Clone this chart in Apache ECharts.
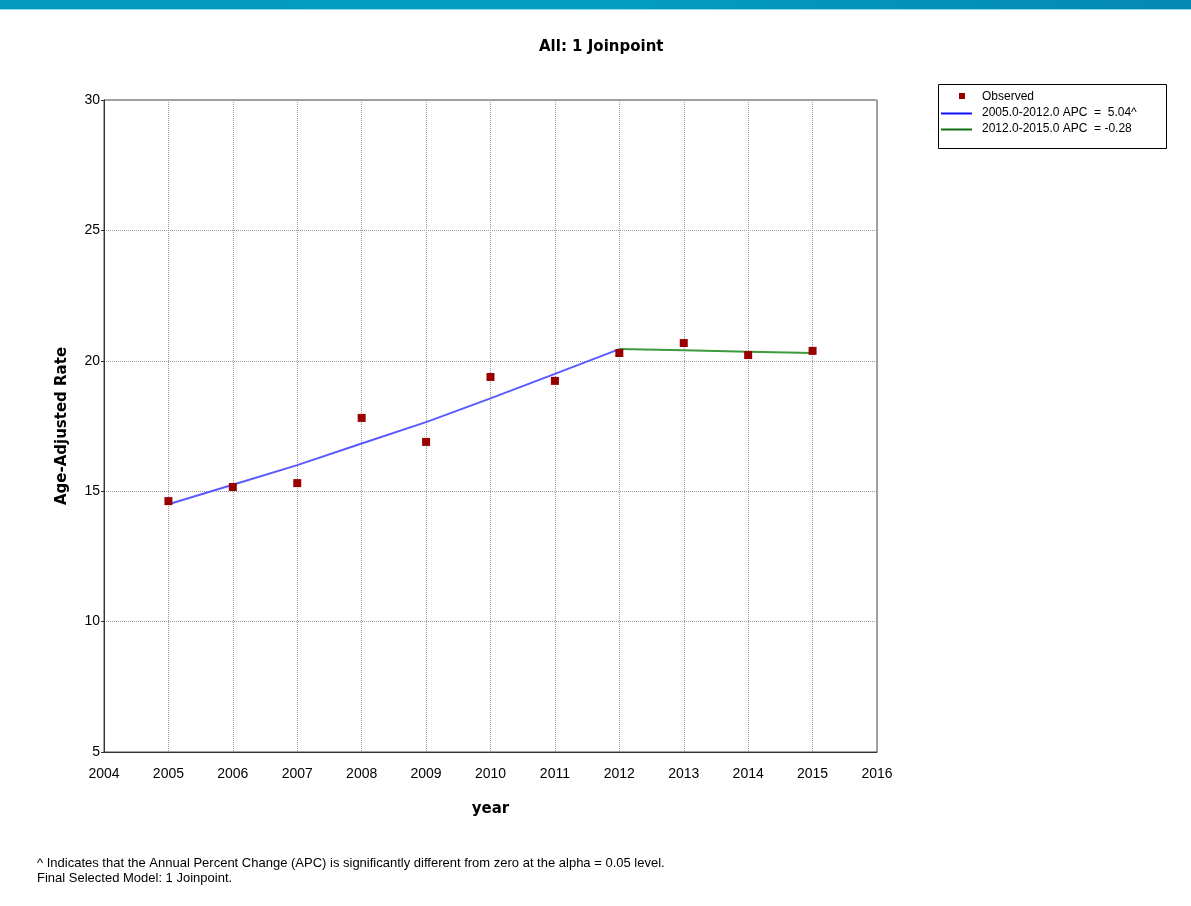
<!DOCTYPE html>
<html>
<head>
<meta charset="utf-8">
<script src="https://cdn.jsdelivr.net/npm/echarts@6/dist/echarts.min.js"></script>
<style>
html,body{margin:0;padding:0;background:#fff;}
#chart{width:1191px;height:906px;}
</style>
</head>
<body>
<div id="chart"></div>
<script>
// Data
const years = [2005, 2006, 2007, 2008, 2009, 2010, 2011, 2012, 2013, 2014, 2015];
const observed = [14.62, 15.16, 15.31, 17.81, 16.89, 19.38, 19.23, 20.30, 20.68, 20.22, 20.38];
const fitYears1 = [2005, 2006, 2007, 2008, 2009, 2010, 2011, 2012];
const fitValues1 = [14.50, 15.25, 16.00, 16.83, 17.65, 18.56, 19.50, 20.45];
const fitYears2 = [2012, 2013, 2014, 2015];
const fitValues2 = [20.45, 20.40, 20.35, 20.30];
const yTicks = [5, 10, 15, 20, 25, 30];
const seriesNames = ['Observed', '2005.0-2012.0 APC  =  5.04^', '2012.0-2015.0 APC  = -0.28'];
const footnotes = [
  '^ Indicates that the Annual Percent Change (APC) is significantly different from zero at the alpha = 0.05 level.',
  'Final Selected Model: 1 Joinpoint.'
];
const titleText = 'All: 1 Joinpoint';

const chart = echarts.init(document.getElementById('chart'), null, {renderer: 'canvas'});
const pair = (xs, ys) => xs.map((x, i) => [x, ys[i]]);
const fontTick = 'Liberation Sans, Arial, sans-serif';
const lineIcon = 'path://M0,0h0.01v0.01h-0.01z M0,5.5h31v2h-31z M31,12h0.01v0.01h-0.01z';
const squareIcon = 'path://M0,0h0.01v0.01h-0.01z M18,2h6v6h-6z M31,12h0.01v0.01h-0.01z';

chart.setOption({
  animation: false,
  backgroundColor: '#fff',
  title: {
    text: titleText,
    left: 534, top: 35,
    textStyle: {fontFamily: 'DejaVu Sans', fontWeight: 'bold', fontSize: 15, color: '#000'}
  },
  grid: {left: 104, right: 314, top: 100, bottom: 154, show: true, borderColor: '#444', borderWidth: 1},
  legend: {
    orient: 'vertical',
    left: 941, top: 91,
    itemGap: 4,
    itemWidth: 31,
    itemHeight: 12,
    padding: 0,
    textStyle: {fontFamily: fontTick, fontSize: 12, color: '#000', padding: [0, 0, 0, 5]},
    data: [
      {name: seriesNames[0], icon: squareIcon, itemStyle: {color: '#990000'}},
      {name: seriesNames[1], icon: lineIcon, itemStyle: {color: '#1010ff'}},
      {name: seriesNames[2], icon: lineIcon, itemStyle: {color: '#107010'}}
    ]
  },
  xAxis: {
    type: 'value', min: 2004, max: 2016, interval: 1,
    name: 'year', nameLocation: 'middle', nameGap: 50,
    nameTextStyle: {fontFamily: 'DejaVu Sans', fontWeight: 'bold', fontSize: 15, color: '#000'},
    axisLine: {show: true, lineStyle: {color: '#333', width: 1}},
    axisTick: {show: false},
    axisLabel: {fontFamily: fontTick, fontSize: 14, color: '#000', margin: 15, formatter: v => String(v)},
    splitLine: {show: true, lineStyle: {color: '#999', type: 'dotted', width: 1}}
  },
  yAxis: {
    type: 'value', min: 5, max: 30, interval: 5,
    name: 'Age-Adjusted Rate', nameLocation: 'middle', nameGap: 34,
    nameTextStyle: {fontFamily: 'DejaVu Sans', fontWeight: 'bold', fontSize: 15, color: '#000'},
    axisLine: {show: true, lineStyle: {color: '#333', width: 1}},
    axisTick: {show: true, inside: false, length: 3, lineStyle: {color: '#333'}},
    axisLabel: {fontFamily: fontTick, fontSize: 14, color: '#000', margin: 4,
      formatter: v => yTicks.indexOf(v) >= 0 ? String(v) : ''},
    splitLine: {show: true, lineStyle: {color: '#999', type: 'dotted', width: 1}}
  },
  graphic: [
    {type: 'rect', z: 10, shape: {x: 0, y: 0, width: 1191, height: 9},
     style: {fill: new echarts.graphic.LinearGradient(0, 0, 1, 0, [
       {offset: 0, color: '#0499bf'}, {offset: 0.5, color: '#049dc2'}, {offset: 1, color: '#0488b3'}])}},
    {type: 'rect', z: 10, shape: {x: 0, y: 9, width: 1191, height: 1}, style: {fill: '#8fdcec'}},
    {type: 'rect', z: 0, shape: {x: 938.5, y: 84.5, width: 228, height: 64},
     style: {fill: 'none', stroke: '#000', lineWidth: 1}},
    {type: 'text', z: 10, style: {x: 37, y: 863, text: footnotes[0], font: '13px Liberation Sans, Arial', fill: '#000', verticalAlign: 'middle'}},
    {type: 'text', z: 10, style: {x: 37, y: 878, text: footnotes[1], font: '13px Liberation Sans, Arial', fill: '#000', verticalAlign: 'middle'}}
  ],
  series: [
    {
      name: seriesNames[0], type: 'scatter', symbol: 'rect', symbolSize: 8,
      itemStyle: {color: '#990000', opacity: 1}, z: 5,
      data: pair(years, observed)
    },
    {
      name: seriesNames[1], type: 'line', symbol: 'none', z: 3,
      lineStyle: {color: '#5a5aff', width: 2},
      itemStyle: {color: '#1010ff'},
      data: pair(fitYears1, fitValues1)
    },
    {
      name: seriesNames[2], type: 'line', symbol: 'none', z: 3,
      lineStyle: {color: '#3d9a3d', width: 2},
      itemStyle: {color: '#107010'},
      data: pair(fitYears2, fitValues2)
    }
  ]
});
</script>
</body>
</html>
